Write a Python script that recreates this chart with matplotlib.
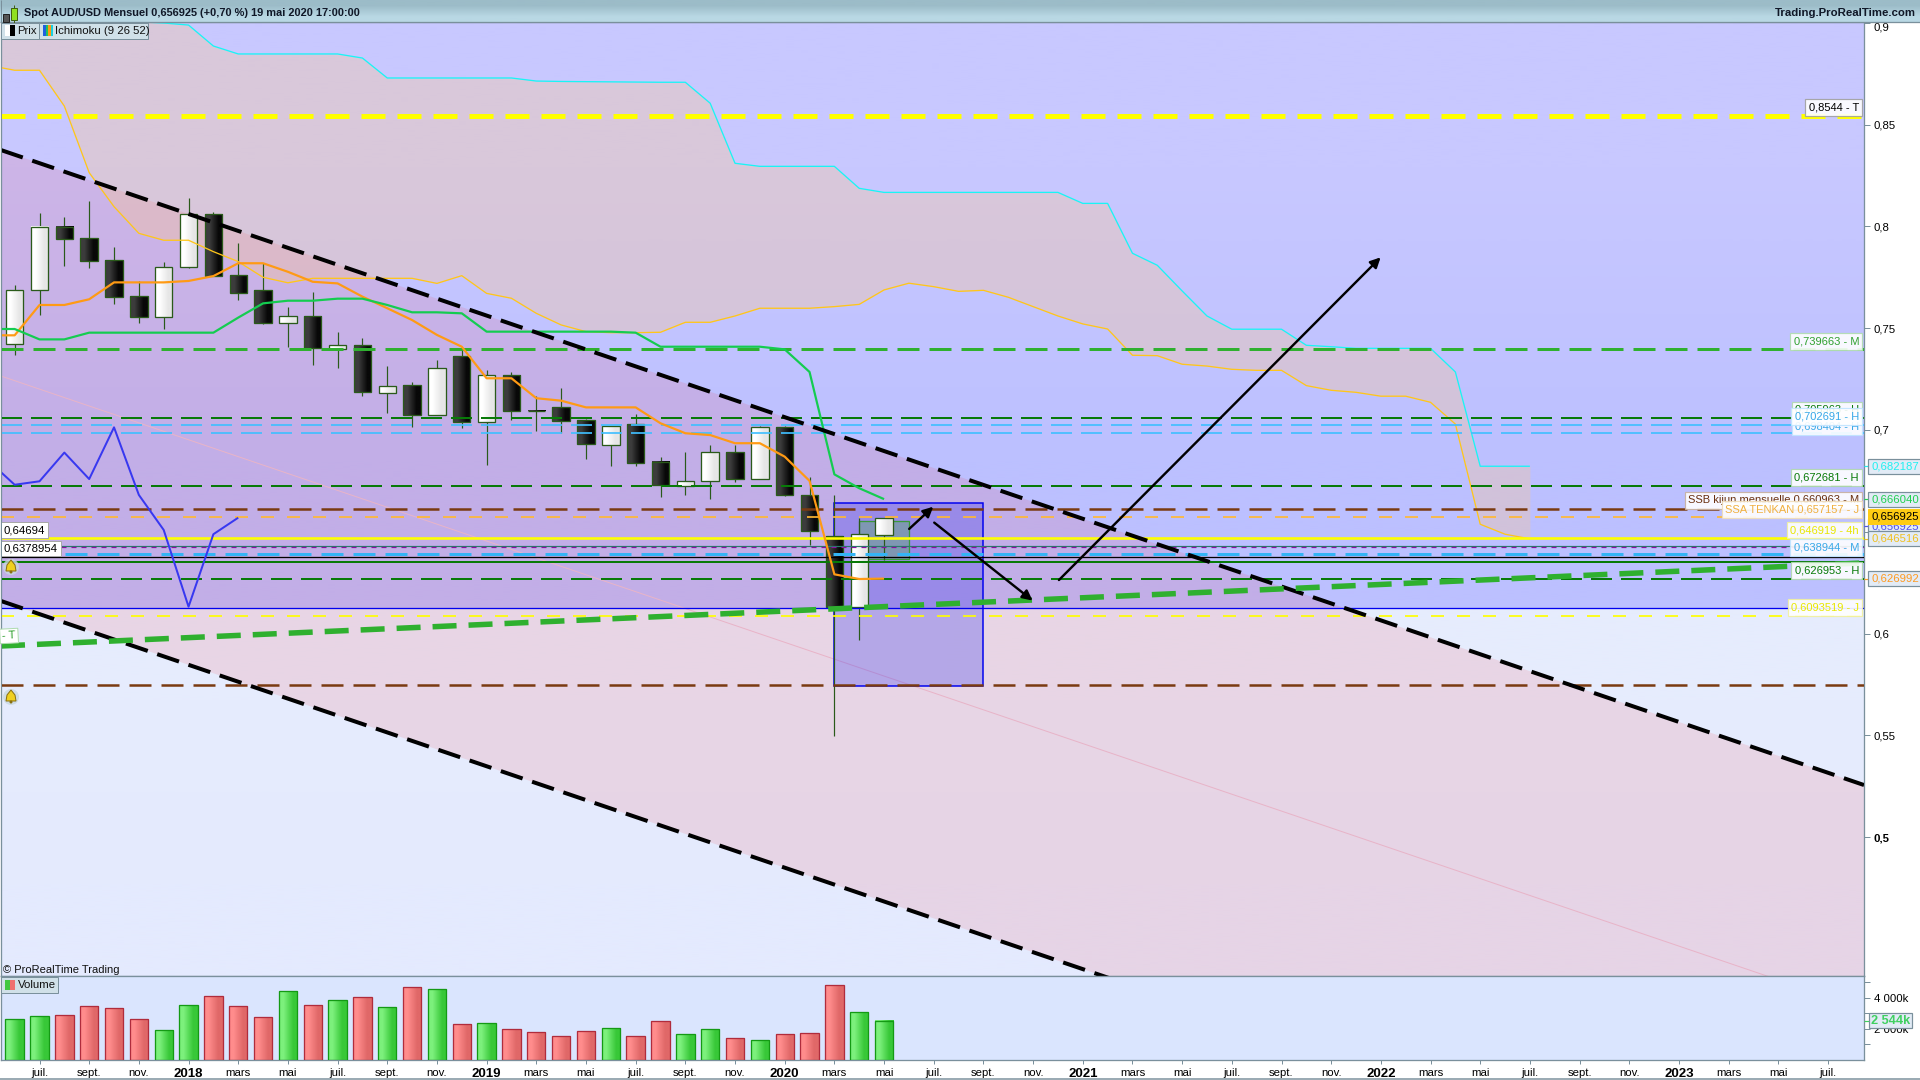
import numpy as np
import matplotlib
matplotlib.use('Agg')
import matplotlib.pyplot as plt
from matplotlib.colors import to_rgb
from matplotlib.patches import Rectangle, Circle, Polygon

plt.rcParams['font.family'] = ['Liberation Sans', 'DejaVu Sans']
plt.rcParams['lines.scale_dashes'] = False
plt.rcParams['lines.dash_capstyle'] = 'butt'
plt.rcParams['lines.solid_capstyle'] = 'butt'

W, H = 1920, 1080
DPI = 100
GREY = '#7a909c'

# monthly candles, first one is june 2017, last one may 2020
opens = [.7421, .7686, .7999, .7941, .7833, .7657, .7557, .7799, .8059, .7760, .7686, .7527,
         .7558, .7399, .7416, .7180, .7219, .7075, .7362, .7041, .7268, .7095, .7111, .7047,
         .6928, .7028, .6841, .6725, .6748, .6890, .6758, .7013, .6679, .6478, .6132, .6486]
closes = [.7686, .7999, .7940, .7832, .7655, .7557, .7799, .8059, .7758, .7675, .7527, .7558,
          .7404, .7416, .7188, .7214, .7075, .7303, .7041, .7268, .7095, .7091, .7046, .6933,
          .7018, .6840, .6728, .6748, .6890, .6758, .7013, .6682, .6506, .6132, .6488, .656925]
highs = [.7712, .8064, .8045, .8125, .7897, .7730, .7825, .8139, .8071, .7917, .7819, .7604,
         .7678, .7481, .7450, .7314, .7234, .7344, .7393, .7295, .7283, .7165, .7206, .7054,
         .7018, .7077, .6866, .6892, .6926, .6926, .7020, .7020, .6768, .6679, .6566, .6569]
lows = [.7370, .7565, .7807, .7797, .7619, .7527, .7498, .7795, .7755, .7640, .7521, .7409,
        .7321, .7305, .7169, .7082, .7016, .7073, .7011, .6828, .7049, .6995, .6984, .6858,
        .6825, .6825, .6673, .6681, .6663, .6746, .6758, .6676, .6434, .5499, .5969, .6361]
volumes = [2623, 2816, 2881, 3461, 3332, 2623, 1913, 3526, 4106, 3461, 2752, 4429,
           3526, 3848, 4042, 3397, 4687, 4558, 2300, 2365, 1978, 1784, 1526, 1849,
           2042, 1526, 2494, 1655, 1978, 1397, 1268, 1655, 1720, 4816, 3074, 2544]

# ichimoku, all start one month before the first candle so the line reaches the left edge
tenkan = [.7465, .7465, .7614, .7614, .7642, .7725, .7725, .7725, .7732, .7756, .7819, .7819,
          .7777, .7728, .7720, .7655, .7598, .7540, .7467, .7409, .7254, .7254, .7156, .7144,
          .7111, .7111, .7111, .7033, .6984, .6975, .6935, .6935, .6869, .6750, .6291, .6268,
          .626992]
kijun = [.7496, .7496, .7445, .7445, .7478, .7478, .7478, .7478, .7478, .7478, .7552, .7622,
         .7635, .7635, .7645, .7645, .7614, .7578, .7578, .7573, .7483, .7483, .7483, .7483,
         .7483, .7483, .7478, .7409, .7409, .7409, .7409, .7409, .7396, .7285, .6782, .6714,
         .66604]
chikou = [.6843, .6731, .6748, .6889, .6759, .7013, .6681, .6509, .6132, .6488, .656925]
ssa = [.8790, .8767, .8767, .8591, .8264, .8097, .7966, .7932, .7932, .7876, .7827, .7750,
       .7723, .7745, .7745, .7745, .7745, .7745, .7720, .7758, .7671, .7647, .7573, .7516,
       .7483, .7478, .7478, .7480, .7529, .7529, .7560, .7598, .7598, .7598, .7606, .7617,
       .7688, .7721, .7704, .7681, .7686, .7652, .7606, .7560, .7521, .7496, .7367, .7365,
       .7323, .7314, .7298, .7293, .7293, .7218, .7195, .7185, .7166, .7166, .7136, .7029,
       .6537, .6488, .646516]
ssb = [.93, .93, .93, .93, .93, .93, .9005, .8999, .8989, .8886, .8847, .8847, .8847, .8847, .8847,
       .8827, .8729, .8729, .8729, .8729, .8729, .8729, .8714, .8712, .8711, .8710, .8709,
       .8708, .8708, .8605, .8310, .8295, .8295, .8295, .8295, .8187, .8167, .8167, .8167,
       .8167, .8167, .8167, .8167, .8167, .8113, .8113, .7868, .7809, .7683, .7560, .7495,
       .7495, .7495, .7416, .7409, .7401, .7401, .7401, .7401, .7285, .682187, .682187, .682187]

# horizontal levels
level_prices = [.8544, .739663, .705963, .702691, .698404, .672681, .660963, .657157,
                .646919, .6432, .6427, .638944, .6375, .6352, .626953, .6124, .6088, .574725]
level_colors = ['#ffff00', '#2fb02f', '#087a08', '#40bfff', '#40bfff', '#087a08', '#7a3a10', '#ffb833',
                '#ffff00', '#2a7a6a', '#8a10a0', '#33b4f5', '#000000', '#087a08', '#087a08', '#0000ee',
                '#ffff00', '#7a3a10']
level_widths = [5, 3, 2, 1.7, 1.7, 2, 2.5, 1.7, 2.6, 1.2, 1.2, 3, 1.3, 2, 2, 1.3, 1.7, 2.5]
level_dashes = [(24, 12), (22, 10), (21, 9), (21, 9), (21, 9), (21, 9), (22, 10), (13, 13),
                None, None, (5, 5), (22, 10), None, None, (21, 9), None, (13, 13), (22, 10)]

# trend lines, values at the left and right edge of the chart
x_edges = [-0.55, 74.45]
channel_top = [.8375, .5256]
channel_bottom = [.6160, .3046]
channel_mid = [.7265, .4156]
rising_trend = [.5939, .6347]

tick_labels = ['juil.', 'sept.', 'nov.', '2018', 'mars', 'mai',
               'juil.', 'sept.', 'nov.', '2019', 'mars', 'mai',
               'juil.', 'sept.', 'nov.', '2020', 'mars', 'mai',
               'juil.', 'sept.', 'nov.', '2021', 'mars', 'mai',
               'juil.', 'sept.', 'nov.', '2022', 'mars', 'mai',
               'juil.', 'sept.', 'nov.', '2023', 'mars', 'mai', 'juil.']
price_ticks = [.9, .85, .8, .75, .7, .65, .6, .55, .5]
price_tick_labels = ['0,9', '0,85', '0,8', '0,75', '0,7', '0,65', '0,6', '0,55', '0,5']
volume_ticks = [1000, 2000, 3000, 4000, 5000]
volume_tick_labels = ['', '2 000k', '', '4 000k', '']

# text tags inside the chart: price of the line, text, colour, edge, lift in pixels
tag_prices = [.8544, .739663, .705963, .698404, .702691, .672681, .660963, .657157,
              .646919, .638944, .626953, .6088]
tag_texts = ['0,8544 - T', '0,739663 - M', '0,705963 - H', '0,698404 - H', '0,702691 - H', '0,672681 - H',
             'SSB kijun mensuelle 0,660963 - M', 'SSA TENKAN 0,657157 - J', '0,646919 - 4h',
             '0,638944 - M', '0,626953 - H', '0,6093519 - J']
tag_colors = ['#000000', '#2fa02f', '#087a08', '#38a8e8', '#38a8e8', '#087a08', '#6a3010', '#f0b040',
              '#e8e800', '#38a8e8', '#087a08', '#e8e800']
tag_edges = ['#a0a0a0', '#b0dcb0', '#b0d8b0', '#c0e4ff', '#c0e4ff', '#b0d8b0', '#c8b0a0', '#f0dcb8',
             '#f0f0a0', '#c0e4ff', '#b0d8b0', '#f0f0a0']
tag_lifts = [8, 8, 8, 7, 8, 8, 9, 8, 8, 7, 8, 8]

# price boxes on the right axis, last price is drawn last
axis_prices = [.682187, .666040, .6528, .646516, .626992]
axis_texts = ['0,682187', '0,666040', '0,656925', '0,646516', '0,626992']
axis_colors = ['#20f0f0', '#20d050', '#5050f0', '#f0c020', '#ff9a20']


def pt(px):
    return px * 72.0 / DPI


def gradient(ax, x0, x1, y0, y1, c0, c1, vertical=False, zorder=2):
    c = np.array([to_rgb(c0), to_rgb(c1)])
    img = c[:, None, :] if vertical else c[None, :, :]
    ax.imshow(img, extent=(x0, x1, y0, y1), origin='upper', aspect='auto',
              interpolation='bilinear', zorder=zorder)


fig = plt.figure(figsize=(W / DPI, H / DPI), dpi=DPI, facecolor='white')


def pixel_axes(left, top, right, bottom):
    return fig.add_axes([left / W, 1 - bottom / H, (right - left) / W, (bottom - top) / H])


ax = pixel_axes(1, 22, 1864, 976)
vol = pixel_axes(1, 976, 1864, 1060)
ui = fig.add_axes([0, 0, 1, 1], zorder=10)
ui.set_xlim(0, W)
ui.set_ylim(H, 0)
ui.axis('off')
ui.patch.set_alpha(0)

xlim = tuple(x_edges)
ylim = (.4318, .9004)
split = level_prices[15]

# background: darker above the blue level, pale below it
gradient(ax, xlim[0], xlim[1], split, ylim[1], '#c8c8ff', '#bcc0ff', vertical=True, zorder=0)
gradient(ax, xlim[0], xlim[1], ylim[0], split, '#e6ecfd', '#e4eafe', vertical=True, zorder=0)
ax.fill_between(x_edges, channel_bottom, channel_top, color='#ff1414', alpha=.1, lw=0, zorder=1)

# kumo
cloud_x = np.arange(len(ssa)) - 1
ax.fill_between(cloud_x, ssa, ssb, color='#ffc88c', alpha=.32, lw=0, zorder=1.5)

for price, color, width, dash in zip(level_prices, level_colors, level_widths, level_dashes):
    if dash is None:
        ax.axhline(price, color=color, lw=pt(width), zorder=5)
    else:
        ax.axhline(price, color=color, lw=pt(width), zorder=5, dashes=(pt(dash[0]), pt(dash[1])))

ax.plot(x_edges, channel_mid, color='#e8b4c8', lw=pt(1), zorder=2)

# blue and green boxes drawn by hand on the chart
ax.add_patch(Rectangle((33, .5743), 6, .6641 - .5743, facecolor='#3030ee', edgecolor='none', alpha=.28, zorder=2))
ax.add_patch(Rectangle((33, .5743), 6, .6641 - .5743, fill=False, edgecolor='#0000ee', lw=pt(1.5), zorder=2.2))
ax.add_patch(Rectangle((34, .6368), 2, .6552 - .6368, facecolor='#50b050', edgecolor='none', alpha=.35, zorder=2.3))
ax.add_patch(Rectangle((34, .6368), 2, .6552 - .6368, fill=False, edgecolor='#3a9a3a', lw=pt(1.3), zorder=2.4))

# candles
for i in range(len(opens)):
    o, c, hi, lo = opens[i], closes[i], highs[i], lows[i]
    ax.plot([i, i], [lo, hi], color='#2a5a1a', lw=pt(1.2), zorder=3)
    bottom, top = min(o, c), max(o, c)
    if c >= o:
        gradient(ax, i - .35, i + .35, bottom, top, '#ffffff', '#e6e6e6', zorder=3.1)
    else:
        gradient(ax, i - .35, i + .35, bottom, top, '#3c3c3c', '#080808', zorder=3.1)
    ax.add_patch(Rectangle((i - .35, bottom), .7, top - bottom, fill=False,
                           edgecolor='#2a5a1a', lw=pt(1.3), zorder=3.2))

# ichimoku lines
ax.plot(cloud_x, ssa, color='#ffc61a', lw=pt(1.3), zorder=4)
ax.plot(cloud_x, ssb, color='#19f5f5', lw=pt(1.3), zorder=4)
ax.plot(np.arange(len(tenkan)) - 1, tenkan, color='#ff9a14', lw=pt(2.2), zorder=6)
ax.plot(np.arange(len(kijun)) - 1, kijun, color='#14cc50', lw=pt(2.2), zorder=6)
ax.plot(np.arange(len(chikou)) - 1, chikou, color='#3838f0', lw=pt(2), zorder=6)

# trend lines
for values in (channel_top, channel_bottom):
    ax.plot(x_edges, values, color='black', lw=pt(4), dashes=(pt(23), pt(10)), zorder=7)
ax.plot(x_edges, rising_trend, color='#2fb02f', lw=pt(5.5), dashes=(pt(24), pt(12)), zorder=7)

# arrows
for start, end in [((36.01, .6514), (36.98, .6623)), ((37.02, .6545), (40.98, .6162)),
                   ((42.04, .6263), (54.99, .7848))]:
    ax.annotate('', xy=end, xytext=start, zorder=8,
                arrowprops=dict(arrowstyle='-|>', color='black', lw=pt(2.4), mutation_scale=15,
                                shrinkA=0, shrinkB=0))

# tags inside the chart
for k in range(len(tag_prices)):
    ax.annotate(tag_texts[k], xy=(1, tag_prices[k]), xycoords=ax.get_yaxis_transform(),
                xytext=(-5, tag_lifts[k]), textcoords='offset pixels', ha='right', va='center',
                fontsize=8, color=tag_colors[k], zorder=9 + k * .01, annotation_clip=False,
                bbox=dict(boxstyle='square,pad=0.3', fc='#ffffff', ec=tag_edges[k], lw=pt(1.2), alpha=.9))

for text, price in [('0,64694', .64694), ('0,6378954', .6378954)]:
    ax.annotate(text, xy=(0, price), xycoords=ax.get_yaxis_transform(), xytext=(3, 8),
                textcoords='offset pixels', ha='left', va='center', fontsize=8.2, color='black',
                zorder=9, bbox=dict(boxstyle='square,pad=0.25', fc='white', ec='#a8a8a8', lw=pt(1)))

# price boxes on the axis
for k in range(len(axis_prices)):
    ax.plot([1, 1 + 5 / 1863], [axis_prices[k]] * 2, transform=ax.get_yaxis_transform(),
            color=axis_colors[k], lw=pt(1.2), clip_on=False, zorder=11)
    ax.annotate(axis_texts[k], xy=(1, axis_prices[k]), xycoords=ax.get_yaxis_transform(),
                xytext=(7, 0), textcoords='offset pixels', ha='left', va='center', fontsize=8.2,
                color=axis_colors[k], zorder=11, annotation_clip=False,
                bbox=dict(boxstyle='square,pad=0.22', fc='#e2ebf6', ec=GREY, lw=pt(1.2)))
ax.annotate('0,656925', xy=(1, closes[-1]), xycoords=ax.get_yaxis_transform(), xytext=(7, 1),
            textcoords='offset pixels', ha='left', va='center', fontsize=8.2, color='black',
            zorder=12, annotation_clip=False,
            bbox=dict(boxstyle='square,pad=0.22', fc='#ffcc14', ec='#ffcc14', lw=pt(1)))

ax.set_xlim(xlim)
ax.set_ylim(ylim)
ax.set_xticks([])
ax.yaxis.tick_right()
ax.set_yticks(price_ticks)
ax.set_yticklabels(price_tick_labels, fontsize=8.2)
ax.tick_params(axis='y', length=4, width=pt(1), color=GREY, pad=3)
for label in ax.get_yticklabels():
    if label.get_text() == '0,5':
        label.set_fontweight('bold')
    if label.get_text() == '0,9':
        label.set_va('top')
for spine in ax.spines.values():
    spine.set_color(GREY)
    spine.set_linewidth(pt(1.3))

# volume panel
vol.set_facecolor('#dae5fe')
for i, v in enumerate(volumes):
    if closes[i] >= opens[i]:
        gradient(vol, i - .37, i + .37, 0, v, '#7cf07c', '#38c838')
        edge = '#149a14'
    else:
        gradient(vol, i - .37, i + .37, 0, v, '#ff8c8c', '#e06868')
        edge = '#b02c3c'
    vol.add_patch(Rectangle((i - .37, 0), .74, v, fill=False, edgecolor=edge, lw=pt(1.3), zorder=3))

vol.set_xlim(xlim)
vol.set_ylim(0, 5419)
vol.yaxis.tick_right()
vol.set_yticks(volume_ticks)
vol.set_yticklabels(volume_tick_labels, fontsize=8.2)
vol.tick_params(axis='y', length=4, width=pt(1), color=GREY, pad=3)
vol.set_xticks(np.arange(len(tick_labels)) * 2 + 1)
vol.set_xticklabels(tick_labels, fontsize=8.2)
vol.tick_params(axis='x', length=3, width=pt(1), color=GREY, pad=3)
for label in vol.get_xticklabels():
    if label.get_text().isdigit():
        label.set_fontweight('bold')
        label.set_fontsize(9.5)
for spine in vol.spines.values():
    spine.set_color(GREY)
    spine.set_linewidth(pt(1.3))

vol.plot([1, 1 + 5 / 1863], [volumes[-1]] * 2, transform=vol.get_yaxis_transform(), color='#40d060',
         lw=pt(1.2), clip_on=False, zorder=5)
vol.annotate('2 544k', xy=(1, volumes[-1]), xycoords=vol.get_yaxis_transform(), xytext=(7, 0),
             textcoords='offset pixels', ha='left', va='center', fontsize=9.2, fontweight='bold',
             color='#40d060', zorder=6, annotation_clip=False,
             bbox=dict(boxstyle='square,pad=0.12', fc='#e2ebf6', ec=GREY, lw=pt(1.2)))

# title bar and little legends
gradient(ui, 0, W, 0, 22, '#b9d8e4', '#9cbcc8', vertical=True, zorder=1)
ui.set_xlim(0, W)
ui.set_ylim(H, 0)
ui.plot([0, W], [22, 22], color=GREY, lw=pt(1.3), zorder=2)
ui.plot([0, W], [1078.5, 1078.5], color=GREY, lw=pt(1.5), zorder=2)
ui.plot([0.5, 0.5], [0, 1060], color=GREY, lw=pt(1), zorder=2)
ui.add_patch(Rectangle((3, 14), 6, 8, fc='#555555', ec='#222222', lw=pt(1), zorder=3))
ui.add_patch(Rectangle((11, 8), 6, 12, fc='#90e020', ec='#406010', lw=pt(1), zorder=3))
ui.plot([14, 14], [5, 23], color='#406010', lw=pt(1), zorder=2.9)
ui.text(24, 13, 'Spot AUD/USD Mensuel 0,656925 (+0,70 %) 19 mai 2020 17:00:00',
        fontsize=7.9, fontweight='bold', color='#101828', va='center', zorder=3)
ui.text(1916, 13, 'Trading.ProRealTime.com', fontsize=8.2, fontweight='bold', color='#101828',
        va='center', ha='right', zorder=3, clip_on=False)

ui.add_patch(Rectangle((0.5, 22.5), 38, 16, fc='#d0e0e8', ec=GREY, lw=pt(1), zorder=3))
ui.add_patch(Rectangle((38.5, 22.5), 109, 16, fc='#d0e0e8', ec=GREY, lw=pt(1), zorder=3))
ui.add_patch(Rectangle((5, 25), 5, 11, fc='white', ec='none', zorder=4))
ui.add_patch(Rectangle((10, 25), 5, 11, fc='black', ec='none', zorder=4))
ui.text(17, 30.5, 'Prix', fontsize=8.2, va='center', color='#101010', zorder=4)
for k, c in enumerate(['#2060e0', '#20c060', '#ff9a14', '#19d0e0']):
    ui.add_patch(Rectangle((43 + k * 2.5, 25), 2.5, 11, fc=c, ec='none', zorder=4))
ui.text(55, 30.5, 'Ichimoku (9 26 52)', fontsize=8.2, va='center', color='#101010', zorder=4)

ui.add_patch(Rectangle((0.5, 977), 57, 16, fc='#d0e0e8', ec=GREY, lw=pt(1), zorder=3))
ui.add_patch(Rectangle((5, 980), 5, 10, fc='#40c840', ec='none', zorder=4))
ui.add_patch(Rectangle((10, 980), 5, 10, fc='#f07070', ec='none', zorder=4))
ui.text(18, 985, 'Volume', fontsize=8.2, va='center', color='#101010', zorder=4)
ui.text(3, 970, '© ProRealTime Trading', fontsize=8, va='center', color='#101010', zorder=4)

# alert bells and the cut off tag at the left
for by in (567, 697):
    ui.add_patch(Circle((11, by), 8, fc='#c8d8e0', ec='none', alpha=.8, zorder=4))
    ui.add_patch(Polygon([(11, by - 7), (15, by - 2), (16, by + 4), (6, by + 4), (7, by - 2)],
                         fc='#f0d020', ec='#8a7010', lw=pt(1), zorder=5))
    ui.add_patch(Circle((11, by + 5), 1.5, fc='#8a7010', ec='none', zorder=5))
ui.text(2, 636, '- T', fontsize=8.2, color='#2fa02f', va='center', zorder=6, rotation=3,
        bbox=dict(boxstyle='square,pad=0.2', fc='white', ec='#b0dcb0', lw=pt(1)))

fig.savefig('out.png', dpi=DPI)
